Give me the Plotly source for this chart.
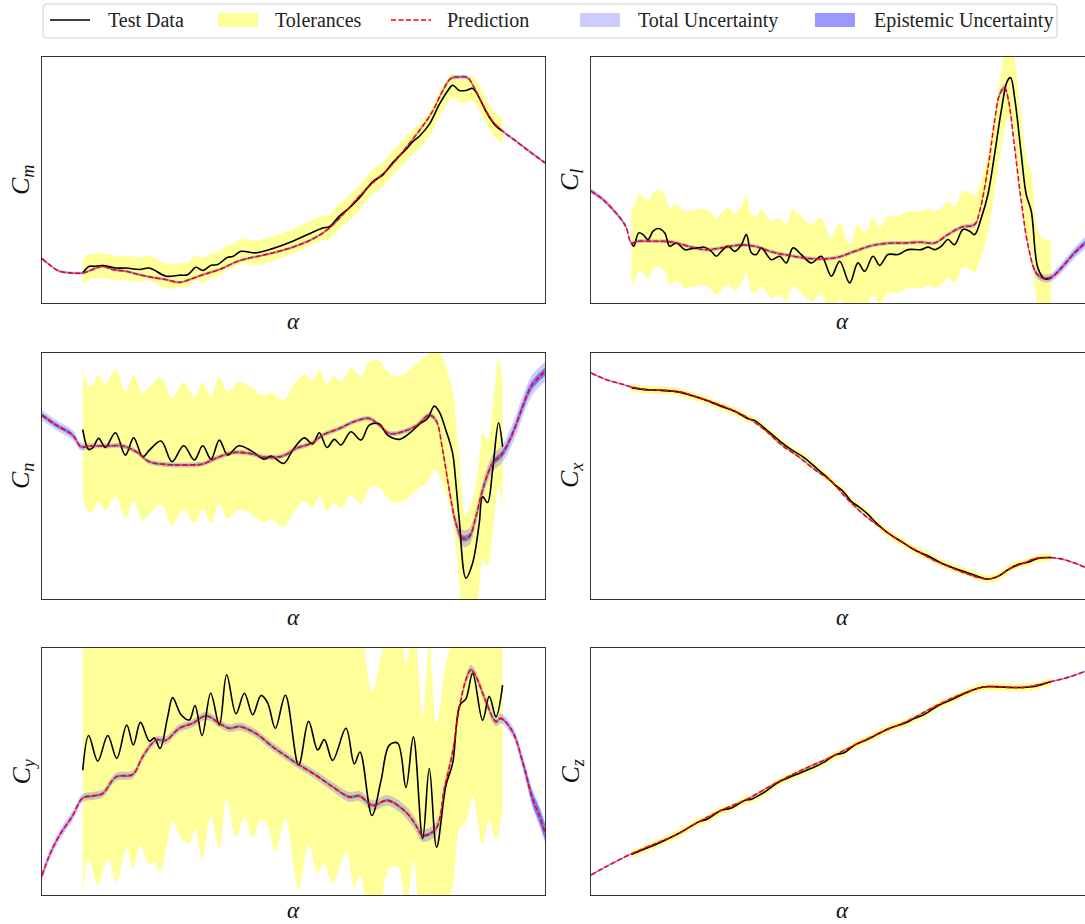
import plotly.graph_objects as go

# ---------------------------------------------------------------------------
# Aerodynamic coefficients vs angle of attack (alpha in degrees).
# Coefficient values are in normalised units (0-100 span per panel).
# ---------------------------------------------------------------------------

# ---- C_m ------------------------------------------------------------------
cm_pred_alpha = [-9.84, -8.97, -7.78, -6.19, -5.0, -3.81, -2.62, -1.43, 0.16, 1.75,
                 3.33, 4.92, 6.51, 7.7, 9.29, 11.27, 13.65, 16.83, 20.0, 22.38,
                 24.37, 26.35, 27.94, 29.52, 31.51, 33.49, 35.48, 36.67, 37.86, 38.85,
                 39.84, 40.83, 41.63, 42.62, 43.81, 45.0, 46.59, 48.17, 50.04]
cm_pred = [18.0, 15.6, 12.9, 12.2, 12.2, 13.6, 14.9, 13.6, 12.9, 11.5,
           10.4, 9.5, 8.4, 9.5, 11.5, 13.6, 17.2, 19.7, 22.7, 26.0,
           30.5, 37.3, 43.4, 48.8, 55.0, 63.1, 71.9, 78.0, 86.2, 91.3,
           91.9, 91.6, 87.5, 80.7, 73.9, 69.9, 65.8, 61.7, 57.0]
cm_total_unc = [0.6, 0.6, 0.6, 0.6, 0.6, 0.6, 0.6, 0.6, 0.6, 0.6,
                0.6, 0.6, 0.6, 0.6, 0.6, 0.6, 0.6, 0.6, 0.6, 0.6,
                0.6, 0.6, 0.6, 0.6, 0.6, 0.6, 0.7, 0.7, 0.8, 0.8,
                0.8, 0.8, 0.8, 0.7, 0.7, 0.7, 0.7, 0.7, 0.7]
cm_epi_unc = [0.3, 0.3, 0.3, 0.3, 0.3, 0.3, 0.3, 0.3, 0.3, 0.3,
              0.3, 0.3, 0.3, 0.3, 0.3, 0.3, 0.3, 0.3, 0.3, 0.3,
              0.3, 0.3, 0.3, 0.3, 0.3, 0.3, 0.3, 0.3, 0.4, 0.4,
              0.4, 0.4, 0.4, 0.4, 0.3, 0.3, 0.3, 0.3, 0.3]
cm_test_alpha = [-5.0, -4.21, -3.61, -2.62, -1.03, 0.16, 1.75, 2.94, 4.92, 6.51,
                 7.5, 8.49, 9.29, 10.28, 11.07, 12.26, 12.86, 13.85, 15.63, 17.62,
                 20.0, 21.59, 23.57, 24.37, 25.56, 26.75, 27.94, 29.52, 30.71, 31.9,
                 33.49, 34.29, 35.08, 36.27, 37.46, 38.45, 39.05, 39.84, 40.63, 41.43,
                 42.22, 43.21, 44.21, 45.0]
cm_test = [12.2, 14.9, 14.9, 15.2, 14.2, 14.2, 13.6, 14.2, 10.9, 11.3,
           11.5, 14.5, 13.2, 15.3, 15.6, 18.6, 18.9, 21.0, 20.4, 22.1,
           25.1, 27.5, 30.5, 31.0, 35.3, 38.7, 42.7, 49.3, 52.0, 57.0,
           62.4, 65.5, 67.8, 72.6, 80.7, 86.2, 88.5, 86.4, 86.4, 87.2,
           83.4, 76.7, 71.9, 69.9]

# ---- C_l ------------------------------------------------------------------
cl_pred_alpha = [-9.84, -8.21, -6.23, -5.63, -5.04, -4.25, -2.26, -0.28, 1.71, 3.69,
                 5.67, 7.66, 9.64, 11.63, 13.61, 15.6, 17.58, 19.56, 21.55, 23.53,
                 25.52, 27.5, 29.48, 31.07, 32.66, 34.25, 35.83, 36.43, 37.42, 38.21,
                 38.81, 39.4, 39.88, 40.6, 41.39, 42.18, 43.17, 44.17, 44.96, 46.15,
                 47.74, 48.97, 49.96]
cl_pred = [45.5, 41.4, 33.9, 30.5, 24.4, 25.1, 25.1, 24.8, 23.1, 21.7,
           22.4, 23.5, 23.1, 20.8, 19.4, 18.3, 17.9, 18.6, 21.0, 23.3,
           24.3, 24.4, 24.7, 24.4, 27.8, 30.8, 31.9, 37.3, 55.0, 73.9,
           84.8, 87.5, 82.1, 63.1, 41.4, 23.7, 12.2, 9.9, 10.4, 14.2,
           20.4, 24.4, 27.8]
cl_total_unc = [1.1, 1.1, 1.0, 1.0, 0.9, 0.8, 0.8, 0.8, 0.8, 0.8,
                0.8, 0.8, 0.8, 0.8, 0.8, 0.8, 0.8, 0.8, 0.8, 0.8,
                0.8, 0.8, 0.8, 0.8, 0.9, 0.9, 1.0, 1.0, 1.1, 1.2,
                1.3, 1.4, 1.4, 1.3, 1.3, 1.4, 1.6, 1.6, 1.7, 2.0,
                2.2, 2.4, 2.5]
cl_epi_unc = [0.4, 0.4, 0.4, 0.4, 0.4, 0.3, 0.3, 0.3, 0.3, 0.3,
              0.3, 0.3, 0.3, 0.3, 0.3, 0.3, 0.3, 0.3, 0.3, 0.3,
              0.3, 0.3, 0.3, 0.3, 0.3, 0.3, 0.4, 0.4, 0.4, 0.4,
              0.5, 0.5, 0.5, 0.5, 0.5, 0.5, 0.6, 0.6, 0.7, 0.8,
              0.9, 1.0, 1.0]
cl_test_alpha = [-5.04, -4.76, -4.17, -3.65, -3.06, -2.46, -1.87, -1.07, -0.48, 0.32,
                 1.31, 2.1, 2.9, 3.69, 4.48, 5.08, 5.67, 6.47, 7.26, 8.06,
                 8.65, 9.25, 9.84, 10.44, 11.63, 12.62, 13.41, 14.21, 15.2, 16.39,
                 17.58, 18.77, 19.76, 20.95, 21.94, 22.74, 23.73, 24.52, 25.52, 26.71,
                 27.9, 29.48, 30.28, 31.07, 31.87, 32.66, 33.45, 34.44, 35.24, 35.83,
                 36.63, 37.42, 38.21, 39.0, 39.72, 40.12, 40.6, 41.39, 41.98, 42.58,
                 43.37, 44.17, 44.96]
cl_test = [24.4, 23.1, 28.5, 27.8, 25.8, 29.2, 30.3, 28.5, 23.1, 24.4,
           21.7, 22.1, 22.4, 22.7, 21.0, 19.0, 21.0, 23.1, 21.0, 23.7,
           27.8, 20.4, 19.7, 22.4, 17.6, 19.0, 16.3, 22.4, 19.7, 16.3,
           19.0, 10.9, 17.0, 8.1, 16.3, 12.9, 19.0, 15.3, 19.7, 19.7,
           21.7, 21.7, 22.7, 21.7, 23.1, 25.8, 23.7, 29.9, 29.2, 27.8,
           34.6, 44.1, 60.4, 78.0, 90.2, 91.6, 83.4, 60.4, 44.1, 37.3,
           14.2, 9.9, 10.4]

# ---- C_n ------------------------------------------------------------------
cn_pred_alpha = [-9.84, -8.17, -6.19, -5.2, -4.21, -2.22, -0.24, 1.35, 2.94, 4.92,
                 6.9, 9.29, 10.87, 12.86, 14.84, 16.83, 18.81, 20.4, 22.38, 23.57,
                 25.56, 27.54, 29.13, 30.32, 31.51, 33.1, 34.68, 36.27, 37.06, 37.86,
                 38.65, 39.44, 40.24, 41.03, 41.83, 42.62, 43.81, 45.0, 46.19, 47.38,
                 48.37, 49.37, 50.04]
cn_pred = [74.7, 70.7, 66.6, 61.9, 62.2, 62.2, 62.2, 59.9, 55.8, 54.7,
           54.5, 54.9, 57.2, 59.5, 59.2, 57.6, 58.1, 61.2, 63.5, 66.6,
           69.3, 72.4, 73.4, 70.7, 67.3, 68.0, 70.3, 74.7, 72.7, 60.5,
           44.3, 30.8, 24.7, 25.4, 33.5, 44.3, 55.1, 59.2, 67.3, 78.1,
           86.2, 90.3, 92.3]
cn_total_unc = [2.0, 2.0, 2.0, 1.6, 1.1, 1.0, 1.0, 1.0, 1.0, 1.0,
                1.0, 1.0, 1.0, 1.0, 1.0, 1.0, 1.0, 1.0, 1.0, 1.0,
                1.0, 1.0, 1.0, 1.0, 1.0, 1.0, 1.1, 1.2, 1.4, 1.8,
                2.4, 3.0, 3.4, 3.4, 3.2, 3.2, 3.4, 3.6, 4.0, 4.2,
                4.2, 4.0, 4.0]
cn_epi_unc = [0.8, 0.8, 0.8, 0.6, 0.4, 0.4, 0.4, 0.4, 0.4, 0.4,
              0.4, 0.4, 0.4, 0.4, 0.4, 0.4, 0.4, 0.4, 0.4, 0.4,
              0.4, 0.4, 0.4, 0.4, 0.4, 0.4, 0.4, 0.5, 0.5, 0.7,
              0.9, 1.1, 1.2, 1.2, 1.2, 1.2, 1.3, 1.4, 1.6, 1.8,
              1.8, 1.7, 1.7]
cn_test_alpha = [-5.0, -4.29, -3.81, -3.1, -2.3, -1.11, 0.08, 1.07, 2.14, 2.94,
                 4.33, 5.63, 7.02, 8.29, 9.29, 10.28, 11.27, 12.26, 13.57, 15.04,
                 16.63, 17.42, 18.93, 20.0, 21.39, 22.38, 23.17, 24.09, 24.96, 25.75,
                 26.94, 28.13, 29.13, 30.32, 31.31, 32.7, 33.89, 35.08, 36.07, 36.87,
                 37.46, 38.25, 39.05, 39.44, 39.84, 40.63, 41.43, 42.22, 42.62, 43.21,
                 43.81, 44.52, 45.0]
cn_test = [68.9, 60.8, 61.4, 65.3, 61.6, 67.6, 58.5, 65.5, 57.8, 60.5,
           64.2, 55.8, 62.3, 56.5, 62.3, 56.8, 64.6, 58.5, 62.3, 60.3,
           56.8, 58.1, 55.1, 60.5, 65.5, 63.0, 67.6, 61.6, 64.9, 62.6,
           68.0, 64.6, 70.7, 71.1, 66.6, 64.9, 67.3, 71.1, 73.4, 78.4,
           76.1, 68.6, 59.2, 47.0, 32.2, 8.5, 14.6, 30.8, 41.6, 39.2,
           52.4, 71.6, 61.9]

# ---- C_x ------------------------------------------------------------------
cx_pred_alpha = [-9.84, -7.82, -6.23, -5.04, -3.06, -1.07, 0.91, 2.9, 4.88, 6.87,
                 8.85, 10.83, 12.82, 14.8, 16.79, 18.77, 20.75, 22.74, 24.72, 26.71,
                 28.69, 30.67, 32.66, 34.64, 36.23, 37.42, 38.61, 40.2, 41.39, 42.98,
                 44.56, 46.15, 47.74, 48.97, 49.96]
cx_pred = [91.9, 88.9, 87.4, 86.2, 85.1, 84.8, 84.1, 82.0, 79.7, 77.0,
           73.6, 68.8, 62.7, 58.0, 52.6, 47.8, 40.4, 34.0, 28.9, 24.1,
           20.1, 16.3, 13.3, 10.6, 8.8, 8.1, 9.2, 12.6, 14.2, 16.4,
           16.9, 16.3, 14.6, 12.9, 11.7]
cx_total_unc = [0.4, 0.4, 0.4, 0.4, 0.4, 0.4, 0.4, 0.4, 0.4, 0.4,
                0.4, 0.4, 0.4, 0.4, 0.4, 0.4, 0.4, 0.4, 0.4, 0.4,
                0.4, 0.4, 0.4, 0.4, 0.4, 0.4, 0.4, 0.4, 0.4, 0.4,
                0.4, 0.4, 0.4, 0.4, 0.4]
cx_epi_unc = [0.2, 0.2, 0.2, 0.2, 0.2, 0.2, 0.2, 0.2, 0.2, 0.2,
              0.2, 0.2, 0.2, 0.2, 0.2, 0.2, 0.2, 0.2, 0.2, 0.2,
              0.2, 0.2, 0.2, 0.2, 0.2, 0.2, 0.2, 0.2, 0.2, 0.2,
              0.2, 0.2, 0.2, 0.2, 0.2]
cx_test_alpha = [-5.04, -3.45, -1.47, 0.52, 1.71, 3.69, 5.67, 7.26, 8.85, 9.64,
                 11.23, 12.82, 14.01, 15.6, 17.18, 18.37, 19.17, 20.16, 21.15, 21.94,
                 22.94, 24.33, 25.52, 27.1, 28.69, 30.28, 31.87, 33.45, 35.44, 37.42,
                 38.61, 39.8, 40.99, 42.18, 43.37, 44.96]
cx_test = [85.8, 85.1, 84.8, 84.2, 83.1, 81.0, 78.3, 76.3, 73.3, 72.6,
           68.2, 63.7, 60.7, 57.3, 52.6, 49.2, 46.5, 43.8, 39.7, 37.7,
           35.0, 30.2, 26.8, 23.4, 19.9, 17.6, 14.6, 12.5, 10.2, 8.1,
           9.2, 11.9, 14.0, 14.9, 16.5, 16.9]

# ---- C_y ------------------------------------------------------------------
cy_pred_alpha = [-9.84, -8.97, -7.78, -6.19, -5.0, -3.81, -2.62, -1.03, 0.95, 2.14,
                 3.73, 4.92, 6.51, 8.1, 9.68, 11.27, 12.46, 13.65, 15.63, 17.62,
                 19.6, 20.79, 22.78, 24.76, 26.75, 27.94, 29.52, 31.31, 33.49, 34.68,
                 35.48, 37.06, 38.06, 39.05, 39.84, 40.63, 41.23, 41.83, 43.02, 44.21,
                 44.8, 46.19, 47.38, 48.57, 49.37, 50.04]
cy_pred = [7.9, 16.0, 24.1, 32.2, 39.3, 40.1, 41.1, 47.8, 48.8, 56.0,
           62.7, 62.7, 67.5, 69.5, 72.6, 69.5, 67.5, 68.2, 65.4, 60.0,
           55.3, 52.6, 48.5, 43.8, 39.7, 40.1, 36.3, 38.3, 33.6, 28.2,
           24.1, 26.8, 43.1, 58.0, 75.6, 87.1, 91.2, 88.5, 78.3, 70.2,
           71.5, 66.1, 53.9, 39.0, 32.2, 25.5]
cy_total_unc = [2.0, 2.0, 2.0, 2.0, 1.7, 1.6, 1.6, 1.6, 1.6, 1.6,
                1.6, 1.6, 1.6, 1.6, 1.6, 1.6, 1.6, 1.6, 1.6, 1.6,
                1.6, 1.6, 1.7, 1.8, 2.0, 2.0, 2.1, 2.2, 2.4, 2.5,
                2.6, 2.6, 2.4, 2.2, 2.0, 2.0, 2.0, 2.0, 2.0, 2.0,
                2.0, 2.2, 2.8, 3.6, 4.0, 4.2]
cy_epi_unc = [0.6, 0.6, 0.6, 0.6, 0.5, 0.5, 0.5, 0.5, 0.5, 0.5,
              0.5, 0.5, 0.5, 0.5, 0.5, 0.5, 0.5, 0.5, 0.5, 0.5,
              0.5, 0.5, 0.5, 0.5, 0.6, 0.6, 0.6, 0.6, 0.6, 0.6,
              0.7, 0.7, 0.6, 0.6, 0.6, 0.6, 0.6, 0.6, 0.6, 0.6,
              0.6, 0.8, 1.6, 2.6, 3.0, 3.2]
cy_test_alpha = [-5.0, -4.29, -3.21, -2.02, -0.95, 0.24, 1.03, 1.87, 2.94, 3.53,
                 4.21, 5.12, 5.71, 6.71, 7.7, 8.37, 9.21, 10.24, 11.27, 12.14,
                 13.25, 14.25, 15.24, 16.23, 17.02, 17.94, 19.13, 20.71, 21.9, 22.98,
                 23.77, 24.76, 26.35, 27.34, 28.02, 29.44, 30.52, 31.51, 32.5, 33.49,
                 34.37, 35.48, 36.27, 37.14, 38.25, 39.05, 39.92, 40.63, 41.43, 42.62,
                 43.41, 44.21, 45.0]
cy_test = [50.5, 64.6, 54.2, 64.6, 55.3, 68.8, 60.7, 69.9, 62.3, 63.6,
           59.3, 72.2, 79.9, 73.0, 70.9, 76.7, 64.5, 81.7, 68.8, 89.2,
           73.4, 81.7, 73.0, 80.8, 77.8, 67.5, 80.9, 52.6, 70.3, 58.7,
           62.9, 54.5, 67.5, 53.1, 57.9, 32.2, 46.3, 60.7, 61.5, 43.6,
           64.0, 22.8, 51.2, 19.4, 44.3, 53.3, 77.0, 79.4, 89.8, 70.7,
           80.4, 72.2, 85.0]

# ---- C_z ------------------------------------------------------------------
cz_pred_alpha = [-9.84, -7.82, -5.04, -2.26, 0.12, 2.9, 5.67, 8.85, 12.02, 15.2,
                 18.37, 21.55, 24.72, 27.9, 31.07, 34.25, 36.63, 38.21, 39.8, 41.39,
                 42.98, 44.96, 46.94, 48.97, 49.96]
cz_pred = [8.1, 11.9, 16.7, 20.7, 24.1, 29.5, 34.3, 39.0, 45.1, 50.5,
           55.3, 60.7, 65.9, 70.5, 76.3, 81.3, 84.0, 84.4, 84.1, 84.0,
           84.8, 86.4, 88.1, 90.5, 91.6]
cz_total_unc = [0.4, 0.4, 0.4, 0.4, 0.4, 0.4, 0.4, 0.4, 0.4, 0.4,
                0.4, 0.4, 0.4, 0.4, 0.4, 0.4, 0.4, 0.4, 0.4, 0.4,
                0.4, 0.4, 0.4, 0.4, 0.4]
cz_epi_unc = [0.2, 0.2, 0.2, 0.2, 0.2, 0.2, 0.2, 0.2, 0.2, 0.2,
              0.2, 0.2, 0.2, 0.2, 0.2, 0.2, 0.2, 0.2, 0.2, 0.2,
              0.2, 0.2, 0.2, 0.2, 0.2]
cz_test_alpha = [-5.04, -3.45, -1.47, 0.91, 2.9, 4.09, 5.67, 6.87, 8.45, 9.25,
                 10.83, 12.42, 13.61, 15.2, 16.79, 17.98, 19.17, 20.36, 21.55, 23.13,
                 24.72, 25.91, 27.5, 28.69, 29.88, 31.47, 33.06, 34.64, 36.23, 37.42,
                 39.4, 41.39, 42.98, 44.96]
cz_test = [16.4, 18.6, 21.5, 25.5, 29.5, 30.9, 34.3, 35.2, 38.3, 38.8,
           41.7, 45.5, 47.4, 49.6, 51.9, 53.9, 56.6, 57.7, 60.7, 63.0,
           65.9, 67.8, 69.5, 71.5, 73.2, 76.6, 79.0, 81.6, 83.7, 84.4,
           84.1, 84.0, 84.4, 86.4]

# Tolerance half-width around the test data for each coefficient
coef_names = ["m", "l", "n", "x", "y", "z"]
tolerances = [5.0, 15.6, 25.8, 1.6, 50.0, 1.6]

# Legend entries: label, kind
legend_labels = ["Test Data", "Tolerances", "Prediction", "Total Uncertainty", "Epistemic Uncertainty"]

# ---------------------------------------------------------------------------
panels = [
    # name, col, row, pred_alpha, pred, total, epi, test_alpha, test
    ("m", 0, 0, cm_pred_alpha, cm_pred, cm_total_unc, cm_epi_unc, cm_test_alpha, cm_test),
    ("l", 1, 0, cl_pred_alpha, cl_pred, cl_total_unc, cl_epi_unc, cl_test_alpha, cl_test),
    ("n", 0, 1, cn_pred_alpha, cn_pred, cn_total_unc, cn_epi_unc, cn_test_alpha, cn_test),
    ("x", 1, 1, cx_pred_alpha, cx_pred, cx_total_unc, cx_epi_unc, cx_test_alpha, cx_test),
    ("y", 0, 2, cy_pred_alpha, cy_pred, cy_total_unc, cy_epi_unc, cy_test_alpha, cy_test),
    ("z", 1, 2, cz_pred_alpha, cz_pred, cz_total_unc, cz_epi_unc, cz_test_alpha, cz_test),
]

W, H = 1085, 924
col_px = [(42, 545), (591, 1085)]
row_px = [(57, 303), (353, 599), (648, 895)]
x_full = (-9.85, 50.05)
px_per_deg = (545 - 42) / (x_full[1] - x_full[0])

TOL_COLOR = "rgba(255,255,0,0.4)"
TOTAL_COLOR = "rgba(0,0,255,0.2)"
EPI_COLOR = "rgba(0,0,255,0.4)"
SERIF = "Liberation Serif, DejaVu Serif, serif"
LINE_W = 1.6
DASH = "5px,2.5px"

fig = go.Figure()
layout_axes = {}
annotations = []
shapes = []

for i, (name, col, row, pa, pv, tu, eu, ta, tv) in enumerate(panels):
    k = i + 1
    xref = "x" if k == 1 else f"x{k}"
    yref = "y" if k == 1 else f"y{k}"
    tol = tolerances[coef_names.index(name)]

    def band(xs, center, half, color, label):
        lo = [c - h for c, h in zip(center, half)]
        hi = [c + h for c, h in zip(center, half)]
        fig.add_trace(go.Scatter(x=xs, y=lo, mode="lines", line=dict(width=0, shape="spline"),
                                 xaxis=xref, yaxis=yref, showlegend=False, hoverinfo="skip"))
        fig.add_trace(go.Scatter(x=xs, y=hi, mode="lines", line=dict(width=0, shape="spline"),
                                 fill="tonexty", fillcolor=color, name=label, showlegend=False,
                                 xaxis=xref, yaxis=yref, hoverinfo="skip"))

    band(ta, tv, [tol] * len(tv), TOL_COLOR, "Tolerances")
    band(pa, pv, tu, TOTAL_COLOR, "Total Uncertainty")
    band(pa, pv, eu, EPI_COLOR, "Epistemic Uncertainty")

    fig.add_trace(go.Scatter(x=ta, y=tv, mode="lines", name="Test Data", showlegend=False,
                             line=dict(color="black", width=LINE_W, shape="spline"),
                             xaxis=xref, yaxis=yref))
    fig.add_trace(go.Scatter(x=pa, y=pv, mode="lines", name="Prediction", showlegend=False,
                             line=dict(color="red", width=LINE_W, dash=DASH, shape="spline"),
                             xaxis=xref, yaxis=yref))

    x0, x1 = col_px[col]
    y0, y1 = row_px[row]
    xr = (x_full[0], x_full[0] + (x1 - x0) / px_per_deg)
    axis_style = dict(showticklabels=False, ticks="", showgrid=False, zeroline=False,
                      showline=True, linecolor="#333333", linewidth=1, fixedrange=True)
    layout_axes["xaxis" if k == 1 else f"xaxis{k}"] = dict(
        domain=[x0 / W, x1 / W], range=list(xr), anchor=yref, mirror=True, **axis_style)
    layout_axes["yaxis" if k == 1 else f"yaxis{k}"] = dict(
        domain=[1 - y1 / H, 1 - y0 / H], range=[0, 100], anchor=xref,
        mirror=(col == 0), **axis_style)

    # axis titles
    cx_px = x0 + 503 / 2
    a_y = min(y1 + 18, 910)
    annotations.append(dict(text="<i>α</i>", x=cx_px / W, y=1 - a_y / H,
                            xref="paper", yref="paper", showarrow=False,
                            font=dict(family=SERIF, size=23, color="#111"),
                            xanchor="center", yanchor="middle"))
    annotations.append(dict(text=f"<i>C</i><sub><i>{name}</i></sub>",
                            x=(x0 - 20) / W, y=1 - (y0 + y1) / 2 / H,
                            xref="paper", yref="paper", showarrow=False, textangle=-90,
                            font=dict(family=SERIF, size=26, color="#111"),
                            xanchor="center", yanchor="middle"))

# ---- legend (drawn in paper coordinates) ----------------------------------
def px(xp):
    return xp / W


def py(yp):
    return 1 - yp / H


# rounded frame
lx0, lx1, ly0, ly1, r = 43, 1057, 4, 38, 4
frame = (f"M {px(lx0 + r)},{py(ly0)} L {px(lx1 - r)},{py(ly0)} "
         f"Q {px(lx1)},{py(ly0)} {px(lx1)},{py(ly0 + r)} L {px(lx1)},{py(ly1 - r)} "
         f"Q {px(lx1)},{py(ly1)} {px(lx1 - r)},{py(ly1)} L {px(lx0 + r)},{py(ly1)} "
         f"Q {px(lx0)},{py(ly1)} {px(lx0)},{py(ly1 - r)} L {px(lx0)},{py(ly0 + r)} "
         f"Q {px(lx0)},{py(ly0)} {px(lx0 + r)},{py(ly0)} Z")
shapes.append(dict(type="path", path=frame, xref="paper", yref="paper",
                   line=dict(color="#d0d0d0", width=1), fillcolor="white", layer="above"))

ly = 20
sym_x = [50, 218, 391, 580, 815]
txt_x = [106, 273, 445, 636, 872]
for label, sx, tx in zip(legend_labels, sym_x, txt_x):
    if label == "Test Data":
        shapes.append(dict(type="line", xref="paper", yref="paper", x0=px(sx), x1=px(sx + 40),
                           y0=py(ly), y1=py(ly), line=dict(color="black", width=LINE_W),
                           layer="above"))
    elif label == "Prediction":
        shapes.append(dict(type="line", xref="paper", yref="paper", x0=px(sx), x1=px(sx + 40),
                           y0=py(ly), y1=py(ly), line=dict(color="red", width=LINE_W, dash=DASH),
                           layer="above"))
    else:
        color = {"Tolerances": TOL_COLOR, "Total Uncertainty": TOTAL_COLOR,
                 "Epistemic Uncertainty": EPI_COLOR}[label]
        shapes.append(dict(type="rect", xref="paper", yref="paper", x0=px(sx), x1=px(sx + 40),
                           y0=py(ly - 7), y1=py(ly + 7), line=dict(width=0), fillcolor=color,
                           layer="above"))
    annotations.append(dict(text=label, x=px(tx), y=py(ly), xref="paper", yref="paper",
                            showarrow=False, xanchor="left", yanchor="middle",
                            font=dict(family=SERIF, size=20, color="#222")))

fig.update_layout(
    width=W, height=H,
    margin=dict(l=0, r=0, t=0, b=0),
    paper_bgcolor="white", plot_bgcolor="white",
    font=dict(family=SERIF, color="#222"),
    showlegend=False,
    annotations=annotations,
    shapes=shapes,
    hovermode=False,
    **layout_axes,
)

fig.write_html("out.html")
